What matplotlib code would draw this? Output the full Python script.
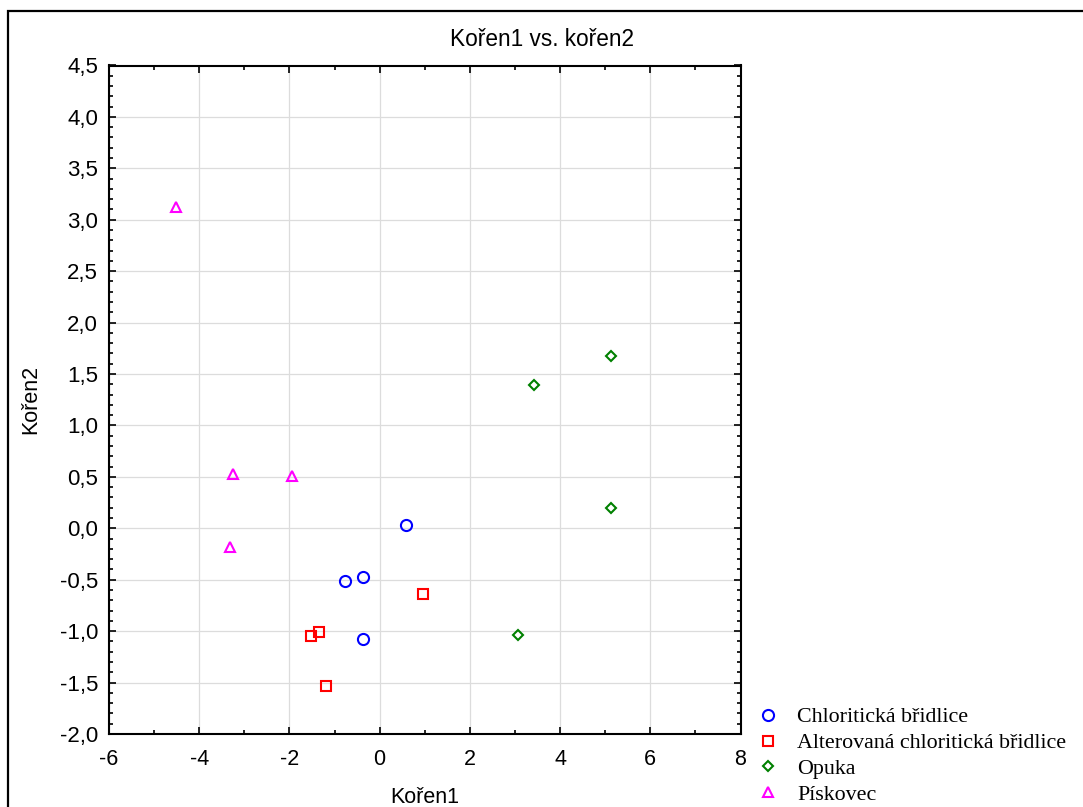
import matplotlib
matplotlib.use("Agg")
import matplotlib.pyplot as plt
from matplotlib.ticker import MultipleLocator, FuncFormatter
from matplotlib.patches import Rectangle

# Canonical scores of the samples, by rock type
chlor_x = [0.58, -0.76, -0.36, -0.38]
chlor_y = [0.03, -0.51, -0.47, -1.08]

alter_x = [0.96, -1.52, -1.34, -1.20]
alter_y = [-0.64, -1.05, -1.01, -1.53]

opuka_x = [5.14, 3.43, 5.12, 3.07]
opuka_y = [1.68, 1.39, 0.20, -1.04]

pisk_x = [-4.51, -3.25, -1.94, -3.32]
pisk_y = [3.12, 0.53, 0.51, -0.18]

group_labels = ["Chloritická břidlice", "Alterovaná chloritická břidlice",
                "Opuka", "Pískovec"]

W, H = 1083, 807
fig = plt.figure(figsize=(W / 100, H / 100), dpi=100)
fig.patch.set_facecolor("white")

sans = "Liberation Sans"
serif = "Liberation Serif"

# axes box in pixel coordinates
L, R, T, B = 109, 740.5, 65.5, 734
ax = fig.add_axes([L / W, 1 - B / H, (R - L) / W, (B - T) / H])

groups = [
    (chlor_x, chlor_y, dict(marker="o", ms=8.0, mec="#0000ff")),
    (alter_x, alter_y, dict(marker="s", ms=7.5, mec="#ff0000")),
    (opuka_x, opuka_y, dict(marker="D", ms=5.5, mec="#008000")),
    (pisk_x, pisk_y, dict(marker="^", ms=7.5, mec="#ff00ff")),
]
handles = []
for (gx, gy, st), lab in zip(groups, group_labels):
    h, = ax.plot(gx, gy, linestyle="none", mfc="none", mew=1.5,
                 label=lab, zorder=3, **st)
    handles.append(h)

ax.set_xlim(-6, 8)
ax.set_ylim(-2.0, 4.5)
ax.xaxis.set_major_locator(MultipleLocator(2))
ax.xaxis.set_minor_locator(MultipleLocator(1))
ax.yaxis.set_major_locator(MultipleLocator(0.5))
ax.yaxis.set_minor_locator(MultipleLocator(0.1))

ax.xaxis.set_major_formatter(FuncFormatter(lambda v, p: f"{v:.0f}"))
ax.yaxis.set_major_formatter(FuncFormatter(lambda v, p: f"{v:.1f}".replace(".", ",")))

ax.grid(True, which="major", color="#dcdcdc", linewidth=0.9, zorder=0)
ax.set_axisbelow(True)

for sp in ax.spines.values():
    sp.set_linewidth(1.5)
    sp.set_color("black")

ax.tick_params(which="both", direction="in", top=True, right=True,
               color="black", width=1.2)
ax.tick_params(which="major", length=5)
ax.tick_params(which="minor", length=3)
ax.tick_params(axis="x", which="major", pad=11, labelsize=15.5)
ax.tick_params(axis="y", which="major", pad=8, labelsize=16)
for lbl in ax.get_xticklabels() + ax.get_yticklabels():
    lbl.set_fontfamily(sans)

ax.set_xlabel("Kořen1", fontsize=15.5, family=sans, labelpad=12)
ax.set_ylabel("Kořen2", fontsize=15.5, family=sans, labelpad=13)

fig.text(0.5, 1 - 46 / H, "Kořen1 vs. kořen2", ha="center", va="baseline",
         fontsize=16.3, family=sans)

fs_leg = 15.8
fs_px = fs_leg * 100 / 72
leg_left = 768 - fs_px * 0.5
fig.legend(handles=handles, labels=group_labels, loc="center left",
           bbox_to_anchor=(leg_left / W, 1 - 756 / H), frameon=False,
           prop={"family": serif, "size": fs_leg}, handlelength=1.0,
           handletextpad=(797 - (leg_left + fs_px)) / fs_px,
           labelspacing=0.25, borderpad=0, borderaxespad=0, numpoints=1)

# outer frame of the graph window
fig.add_artist(Rectangle((8 / W, -0.2), 1.2, 1 - 11 / H + 0.2,
                         transform=fig.transFigure, fill=False,
                         edgecolor="black", linewidth=1.6, clip_on=False))

fig.savefig("out.png", dpi=100, facecolor="white")
